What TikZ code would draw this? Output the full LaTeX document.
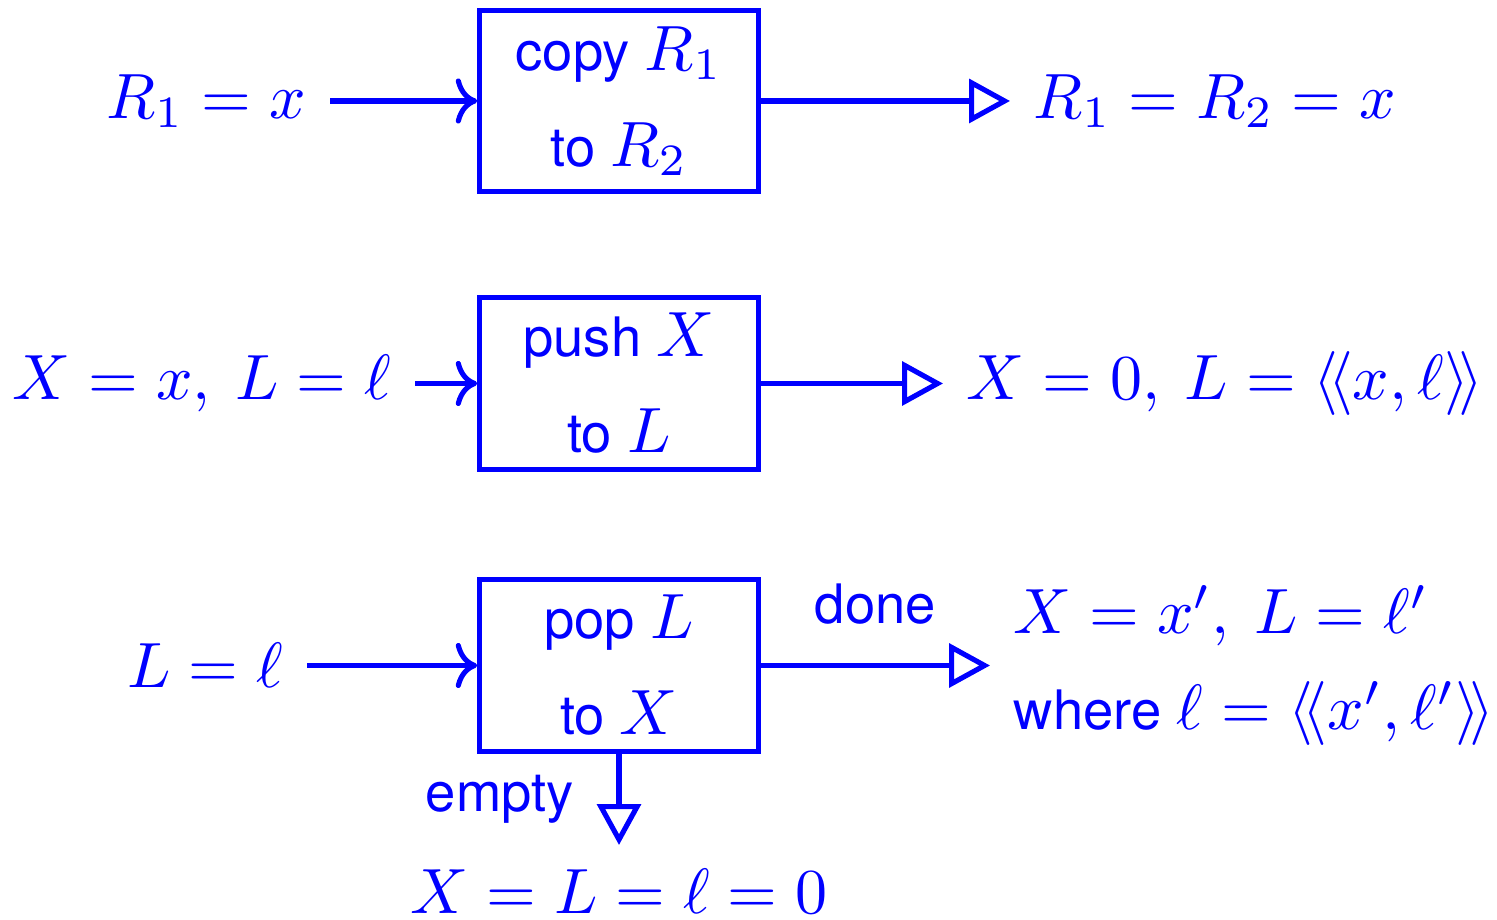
\documentclass[tikz,border=0pt]{standalone}
\usepackage{fontspec}
\setsansfont{TeX Gyre Heros}[Scale=0.85]
\usetikzlibrary{arrows.meta}
\newcommand{\lpair}{\langle\!\langle}
\newcommand{\rpair}{\rangle\!\rangle}
\tikzset{
  opbox/.style={draw,font=\sffamily,align=center,inner sep=0pt,minimum width=43.5pt},
  feed/.style={->},
  yield/.style={-{Triangle[open,length=6.4pt,width=6.8pt]}},
  sans/.style={font=\sffamily}
}
\begin{document}
\begin{tikzpicture}[x=1.5625pt,y=1.5625pt,line width=.8pt,blue]
\useasboundingbox (0,0) rectangle (149.7,-92);
% the three operations
\node[opbox,minimum height=28.2pt] (copy) at (61.9,-10.1) {copy $R_1$\\[3pt] to $R_2$};
\node[opbox,minimum height=26.9pt] (push) at (61.9,-38.35) {push $X$\\[3pt] to $L$};
\node[opbox,minimum height=26.9pt] (pop) at (61.9,-66.55) {pop $L$\\[3pt] to $X$};
% states before
\node[anchor=east] (in1) at (33.0,-10.1) {$R_1 = x$};
\node[anchor=east] (in2) at (41.5,-38.35) {$X = x,\: L = \ell$};
\node[anchor=east] (in3) at (30.7,-66.55) {$L = \ell$};
% states after
\node[anchor=west] (out1) at (101.0,-10.1) {$R_1 = R_2 = x$};
\node[anchor=west] (out2) at (94.3,-38.35) {$X = 0,\: L = \lpair x,\ell\rpair$};
\node[anchor=west,align=left] (out3) at (99.0,-66.55) {$X = x',\: L = \ell'$\\[3pt] \sffamily where $\ell = \lpair x',\ell'\rpair$};
\node[anchor=north] (zero) at (61.9,-84.5) {$X = L = \ell = 0$};
\draw[feed] (in1) -- (copy);
\draw[feed] (in2) -- (push);
\draw[feed] (in3) -- (pop);
\draw[yield] (copy) -- (out1);
\draw[yield] (push) -- (out2);
\draw[yield] (pop.east) -- node[above=2.7pt,sans] (done) {done} (out3.west);
\draw[yield] (pop.south) -- node[left=3.3pt,sans] (empty) {empty} (zero.north);
\end{tikzpicture}
\end{document}
